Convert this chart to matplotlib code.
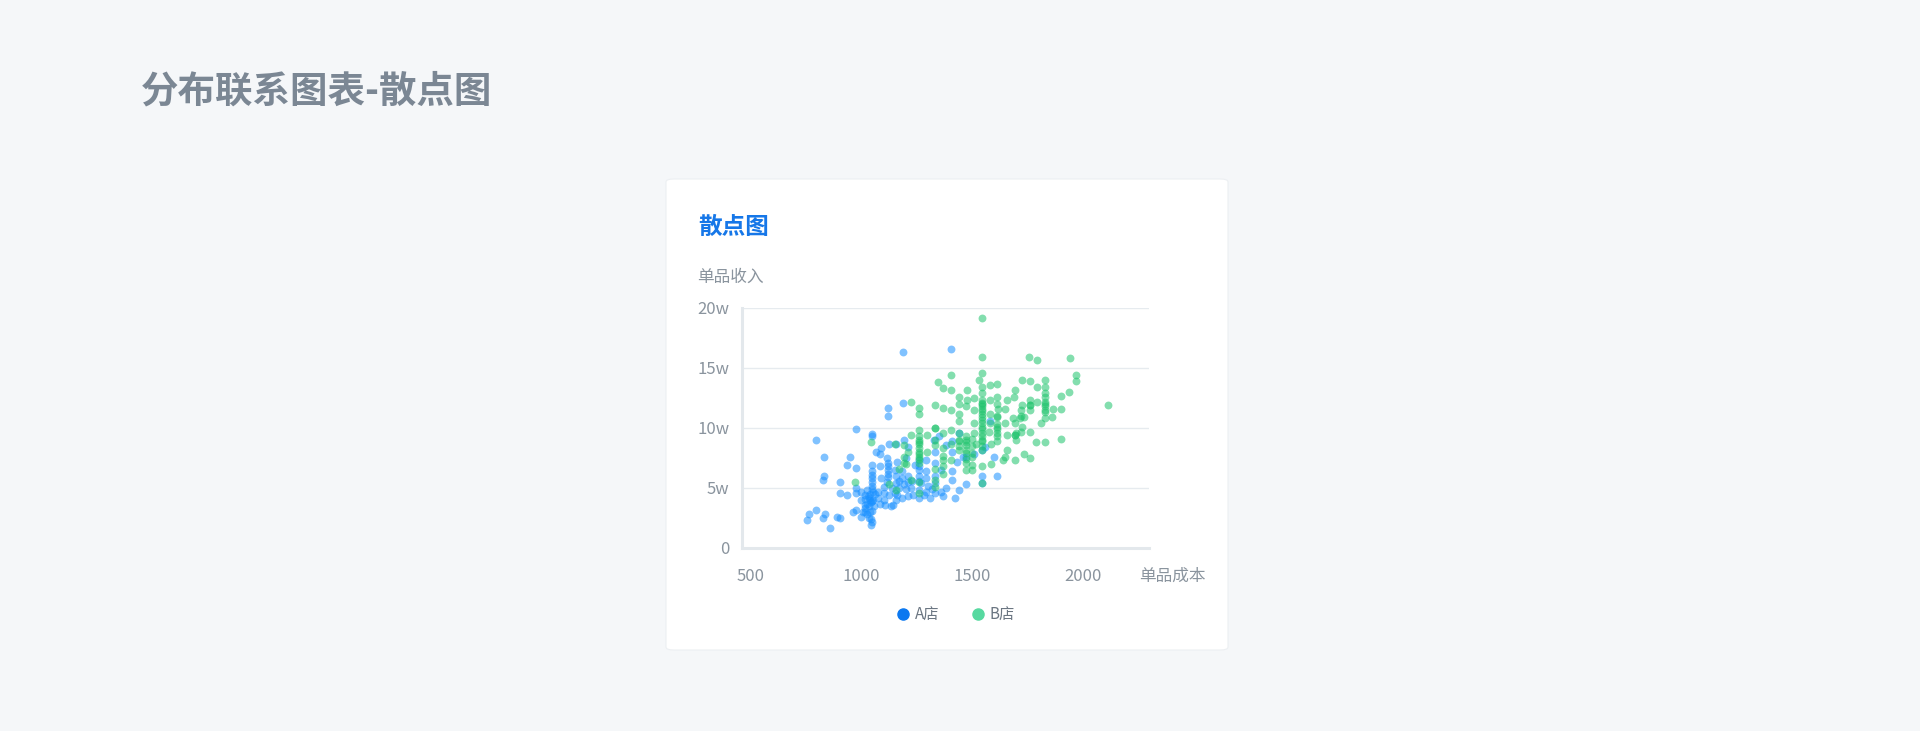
import matplotlib
matplotlib.use("Agg")
import matplotlib.pyplot as plt
from matplotlib.patches import FancyBboxPatch
from matplotlib.lines import Line2D
from matplotlib.ticker import FuncFormatter

plt.rcParams['font.family'] = ['Noto Sans CJK SC', 'DejaVu Sans']

# A店: cost (yuan) / income (w)
A_COST = [1189, 1404, 1189, 1118, 1118, 976, 796, 831, 946, 933, 976, 1046, 1046, 826, 831,
          901, 933, 903, 752, 762, 796, 826, 833, 859, 888, 905, 960, 996, 976, 1045, 1045,
          1025, 1016, 1025, 1050, 976, 976, 1000, 1025, 1050, 1075, 1100, 1125, 1108, 1142,
          1158, 1183, 1209, 1234, 1259, 1284, 1309, 1334, 1367, 1422, 1439, 1384, 1473, 1359,
          1317, 1292, 1259, 1225, 1192, 1158, 1117, 1088, 1046, 1046, 1046, 1085, 1118, 1118,
          1150, 1184, 1184, 1158, 1117, 1084, 1067, 1087, 1125, 1158, 1192, 1209, 1259, 1259,
          1292, 1292, 1326, 1334, 1334, 1334, 1359, 1409, 1409, 1409, 1409, 1439, 1459, 1473,
          1509, 1543, 1543, 1543, 1601, 1615, 1008, 1033, 1058, 1084, 1134, 1000, 1075,
          1016, 1030, 1060, 1035, 1040, 1140, 1150, 1200, 1230, 1270, 1300, 1160, 1200, 1240,
          1350, 1380, 1430, 1560, 1580, 1040, 1040, 1045, 1035,
          1046, 1046, 1046, 1046, 1046, 1046, 1046, 1016, 1016, 1016, 1100, 1100, 1118, 1118,
          1118, 1170, 1170, 1259, 1259, 1259, 1290, 1334, 1209, 1209, 1160]
A_INCOME = [16.3, 16.6, 12.1, 11.7, 11.0, 9.9, 9.0, 7.6, 7.6, 6.9, 6.7, 9.5, 9.3, 5.7, 6.0,
            5.5, 4.4, 4.6, 2.3, 2.8, 3.2, 2.5, 2.8, 1.7, 2.6, 2.5, 3.0, 2.6, 3.2, 1.9, 2.4,
            2.8, 3.3, 3.7, 4.0, 4.6, 5.0, 4.7, 4.8, 4.7, 4.7, 4.6, 4.4, 3.6, 3.6,
            4.0, 4.2, 4.3, 4.4, 4.2, 4.4, 4.2, 4.6, 4.3, 4.2, 4.8, 5.0, 5.3, 4.7,
            4.9, 4.7, 4.8, 5.0, 5.3, 5.4, 5.5, 5.8, 5.8, 6.4, 6.9, 6.8, 6.8, 6.2,
            6.5, 6.4, 5.8, 6.0, 7.5, 7.8, 8.0, 8.3, 8.7, 8.7, 9.0, 8.4, 7.3, 6.5,
            6.4, 7.3, 9.0, 8.0, 7.1, 6.0, 6.5, 6.4, 5.7, 8.0, 8.9, 9.6, 7.6, 7.6,
            7.8, 8.2, 6.0, 5.4, 7.6, 6.0, 3.0, 2.5, 3.5, 3.7, 3.5, 4.0, 4.2,
            4.4, 4.3, 4.5, 3.5, 3.0, 5.0, 4.6, 4.9, 5.6, 5.4, 5.2, 7.2, 7.5, 6.9,
            9.3, 8.6, 7.2, 8.4, 10.6, 4.0, 4.5, 3.8, 4.2,
            5.2, 5.5, 6.1, 4.9, 3.9, 3.1, 2.2, 3.0, 3.6, 4.1, 5.1, 4.0, 5.9,
            6.5, 7.1, 5.0, 5.6, 5.6, 6.0, 6.8, 5.8, 5.4, 6.0, 5.5, 4.4]

# B店
B_COST = [1546, 1546, 1758, 1795, 1944, 1972, 1972, 1940, 1902, 2116, 1902, 1865, 1902,
          1832, 1832, 1832, 1832, 1832, 1832, 1810, 1832, 1790, 1793, 1760, 1727, 1693,
          1690, 1660, 1793, 1760, 1760, 1727, 1735, 1727, 1760, 1693, 1660, 1651, 1651,
          1618, 1613, 1581, 1546, 1530, 1546, 1546, 1546, 1546, 1546, 1546, 1546, 1546,
          1546, 1546, 1546, 1581, 1615, 1615, 1615, 1615, 1615, 1584, 1518, 1509, 1509,
          1509, 1476, 1476, 1473, 1439, 1439, 1439, 1439, 1404, 1404, 1367, 1347, 1334,
          1367, 1404, 1225, 1259, 1259, 1332, 1297, 1259, 1259, 1259, 1259, 1259, 1259,
          1259, 1259, 1225, 1192, 1192, 1192, 1172, 1150, 1125, 1158, 1045, 971, 1297,
          1334, 1367, 1367, 1367, 1334, 1334, 1334, 1367, 1404, 1404, 1404, 1439, 1439,
          1439, 1473, 1473, 1473, 1473, 1473, 1473, 1501, 1509, 1576, 1584, 1651, 1640,
          1693, 1735, 1760, 1660, 1543, 1581, 1581, 1685, 1693, 1719, 1720, 1693, 1860,
          1546, 1546, 1546, 1546, 1546, 1546, 1546, 1546, 1546, 1546, 1259, 1259, 1259,
          1259, 1259, 1615, 1615, 1615, 1615, 1615, 1832, 1832, 1832, 1832, 1700, 1700,
          1473, 1473, 1473, 1439, 1439, 1500, 1500, 1500, 1500, 1500, 1720, 1720, 1760,
          1760, 1367, 1367, 1334, 1334, 1200, 1209, 1225]
B_INCOME = [19.2, 15.9, 15.9, 15.7, 15.8, 14.4, 13.9, 13.0, 12.7, 11.9, 11.6, 11.6, 9.1,
            14.0, 13.4, 12.9, 12.0, 11.5, 10.8, 10.4, 8.8, 8.8, 13.4, 13.9, 14.0, 13.2,
            12.6, 12.3, 12.2, 11.9, 11.5, 11.9, 10.9, 10.1, 9.7, 9.4, 9.4, 10.4, 11.6,
            11.6, 13.7, 13.6, 14.6, 14.0, 13.4, 12.9, 12.3, 11.8, 11.2, 10.7, 10.1, 9.6,
            8.9, 6.8, 5.4, 12.3, 12.6, 10.9, 10.1, 9.3, 8.9, 8.7, 8.7, 10.4, 11.5,
            12.5, 13.2, 12.3, 11.8, 12.6, 12.0, 11.2, 10.6, 14.4, 13.2, 13.3, 13.8, 11.9,
            11.7, 11.5, 12.2, 11.7, 11.2, 10.0, 9.4, 9.8, 9.3, 8.7, 8.0, 7.6, 7.1,
            5.5, 4.6, 9.4, 8.6, 7.6, 7.1, 6.6, 8.7, 5.3, 4.8, 8.8, 5.5, 8.0,
            10.0, 9.6, 8.3, 7.3, 6.6, 5.7, 5.1, 6.2, 9.8, 8.7, 7.3, 9.6, 8.9,
            8.2, 9.3, 8.6, 7.9, 7.1, 6.5, 7.4, 7.9, 9.6, 9.7, 7.0, 7.6, 7.3,
            7.3, 7.8, 7.5, 8.2, 12.0, 11.2, 10.4, 10.8, 10.4, 10.8, 9.7, 9.4, 10.9,
            8.2, 8.5, 9.0, 9.3, 9.9, 10.4, 10.9, 11.4, 11.6, 12.1, 7.8, 8.3, 8.8,
            9.0, 7.4, 9.6, 9.9, 10.3, 11.0, 12.0, 11.3, 11.8, 12.2, 12.6, 9.0, 9.6,
            8.2, 8.8, 9.0, 9.0, 8.5, 8.5, 9.1, 7.6, 6.9, 6.5, 11.5, 11.0, 11.9,
            12.3, 7.7, 6.8, 8.6, 9.0, 7.0, 8.0, 5.7]

SERIES = ['A店', 'B店']
X_TICKS = [500, 1000, 1500, 2000]
Y_TICKS = [0, 5, 10, 15, 20]

BG = '#f5f7f9'
GRAY = '#8a949e'
BLUE = '#1890ff'
GREEN = '#1ec46c'

fig = plt.figure(figsize=(19.2, 7.31), dpi=100, facecolor=BG)

# page title
fig.text(141 / 1920, 1 - 91 / 731, '分布联系图表-散点图', fontsize=27, fontweight='bold',
         color='#7b8794', ha='left', va='center')

# white card
card = FancyBboxPatch((666 / 1920, 1 - 650 / 731), 562 / 1920, 471 / 731,
                      boxstyle='round,pad=0,rounding_size=0.004',
                      transform=fig.transFigure, facecolor='white',
                      edgecolor='#eceff2', linewidth=0.8, zorder=0)
fig.patches.append(card)

fig.text(698 / 1920, 1 - 227 / 731, '散点图', fontsize=17, fontweight='bold',
         color='#1677e8', ha='left', va='center')
fig.text(697 / 1920, 1 - 277 / 731, '单品收入', fontsize=12, color=GRAY,
         ha='left', va='center')
fig.text(1139 / 1920, 1 - 576 / 731, '单品成本', fontsize=12, color=GRAY,
         ha='left', va='center')

ax = fig.add_axes([742 / 1920, 1 - 548 / 731, 407 / 1920, 240 / 731])
ax.set_zorder(2)
ax.set_facecolor('white')

ax.scatter(A_COST, A_INCOME, s=32, color=BLUE, alpha=0.55, linewidths=0, zorder=3)
ax.scatter(B_COST, B_INCOME, s=32, color=GREEN, alpha=0.55, linewidths=0, zorder=3)

ax.set_xlim(460, 2300)
ax.set_ylim(0, 20)
ax.set_xticks(X_TICKS)
ax.set_yticks(Y_TICKS)
ax.yaxis.set_major_formatter(FuncFormatter(lambda v, p: '0' if v == 0 else f'{v:g}w'))
ax.tick_params(length=0, labelsize=12, labelcolor=GRAY)
ax.tick_params(axis='x', pad=14.5)
ax.tick_params(axis='y', pad=9)
for lbl in ax.get_yticklabels():
    lbl.set_verticalalignment('center_baseline')

ax.grid(axis='y', color='#e6ebef', linewidth=1)
ax.set_axisbelow(True)
for side in ['top', 'right']:
    ax.spines[side].set_visible(False)
for side in ['left', 'bottom']:
    ax.spines[side].set_color('#e3e8ec')
    ax.spines[side].set_linewidth(2.2)

# legend
handles = [Line2D([], [], marker='o', linestyle='', markersize=8, color='#0b78f0'),
           Line2D([], [], marker='o', linestyle='', markersize=8, color='#57d9a0')]
fig.legend(handles, SERIES, loc='center', bbox_to_anchor=(955 / 1920, 1 - 615 / 731),
           ncol=2, frameon=False, fontsize=11, labelcolor='#6b7682',
           handletextpad=0.3, columnspacing=2.0, handlelength=1.0)

fig.savefig('out.png', dpi=100, facecolor=BG)
